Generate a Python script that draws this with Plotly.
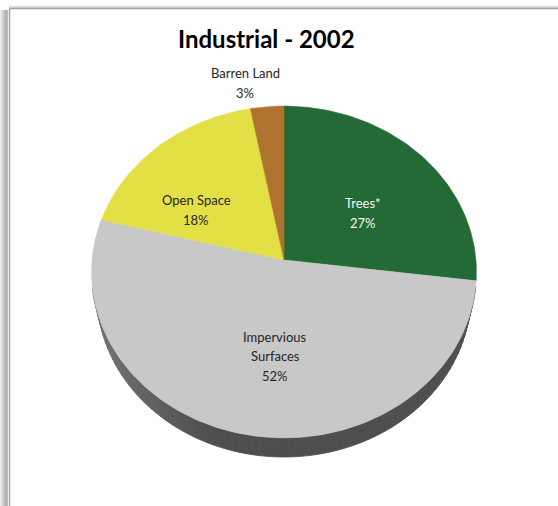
import numpy as np
import plotly.graph_objects as go

# ---- data -------------------------------------------------------------
categories = ["Trees*", "Impervious Surfaces", "Open Space", "Barren Land"]
label_lines = [["Trees*"], ["Impervious", "Surfaces"], ["Open Space"], ["Barren Land"]]
shares = [27, 52, 18, 3]

# ---- style ------------------------------------------------------------
face_colors = ["#236a36", "#c8c8c8", "#e3e046", "#b0732f"]
wall_colors = ["#143f20", "#4e4e4e", "#8a8729", "#6a451c"]
text_colors = ["#f4f8f4", "#262626", "#262626", "#262626"]
label_centers = [(363, 213), (275, 356), (196, 210), (245, 83)]
LINE_GAP = 19.5
FONT = "Lato, 'Open Sans', sans-serif"

W, H = 558, 506

# ---- perspective camera for a tilted disc -------------------------------
FOCAL = 1355.0
DIST = 7.06
TILT = np.radians(59.3)
ORIGIN = (284.0, 260.0)
THICK = 0.24


def project(u, v, h=0.0):
    """Disc point (u right, v toward viewer, h down) -> pixel coordinates."""
    y = -h
    up = y * np.cos(TILT) - v * np.sin(TILT)
    depth = DIST - y * np.sin(TILT) - v * np.cos(TILT)
    return ORIGIN[0] + FOCAL * u / depth, ORIGIN[1] - FOCAL * up / depth


def rim(a0, a1, n, h=0.0):
    a = np.linspace(a0, a1, n)
    return project(np.sin(a), -np.cos(a), h)


def mix(hex_color, target, t):
    c = np.array([int(hex_color[i:i + 2], 16) for i in (1, 3, 5)], float)
    c = c + (target - c) * t
    return "rgb(%d,%d,%d)" % tuple(np.clip(c, 0, 255).round())


total = float(sum(shares))
bounds = np.concatenate([[0], np.cumsum(shares)]) / total * 2 * np.pi

fig = go.Figure()

# side wall, built from small quads so it can be shaded along the rim
quads = []
step = np.radians(2.0)
for i in range(len(shares)):
    a0, a1 = bounds[i], bounds[i + 1]
    n = max(2, int(np.ceil((a1 - a0) / step)) + 1)
    edges = np.linspace(a0, a1, n)
    for s0, s1 in zip(edges[:-1], edges[1:]):
        mid = 0.5 * (s0 + s1)
        v_mid = -np.cos(mid)
        if v_mid < 0.15:
            continue
        tx, ty = rim(s0, s1, 4)
        bx, by = rim(s1, s0, 4, THICK)
        u_mid = np.sin(mid)
        light = np.clip((-u_mid - 0.35) / 0.55, 0, 1) * 0.18
        color = mix(wall_colors[i], 255, light)
        quads.append((v_mid, np.concatenate([tx, bx, tx[:1]]),
                      np.concatenate([ty, by, ty[:1]]), color))

for _, qx, qy, color in sorted(quads, key=lambda q: q[0]):
    fig.add_trace(go.Scatter(x=qx, y=qy, mode="lines", fill="toself",
                             fillcolor=color, line=dict(color=color, width=0.8),
                             hoverinfo="skip", showlegend=False))

# top faces of the slices
cx, cy = project(0.0, 0.0)
for i, name in enumerate(categories):
    a0, a1 = bounds[i], bounds[i + 1]
    n = max(3, int((a1 - a0) / np.radians(1.0)) + 2)
    ax_, ay_ = rim(a0, a1, n)
    xs = np.concatenate([[cx], ax_, [cx]])
    ys = np.concatenate([[cy], ay_, [cy]])
    fig.add_trace(go.Scatter(x=xs, y=ys, mode="lines", fill="toself",
                             fillcolor=face_colors[i],
                             line=dict(color=face_colors[i], width=0.6),
                             name=name, hoverinfo="name", showlegend=False))

# slice labels: name line(s) followed by the share
annotations = []
for i in range(len(shares)):
    lines = label_lines[i] + ["%d%%" % round(shares[i] / total * 100)]
    x0, y0 = label_centers[i]
    top = y0 - LINE_GAP * (len(lines) - 1) / 2
    for k, line in enumerate(lines):
        annotations.append(dict(x=x0, y=top + k * LINE_GAP, xref="x", yref="y",
                                text=line, showarrow=False,
                                font=dict(family=FONT, size=13, color=text_colors[i]),
                                xanchor="center", yanchor="middle"))

annotations.append(dict(x=266, y=38, xref="x", yref="y", text="<b>Industrial - 2002</b>",
                        showarrow=False, xanchor="center", yanchor="middle",
                        font=dict(family=FONT, size=24, color="#000000")))

# chart-area frame with a soft drop shadow on the left and top
shapes = []
shadow = ["#ececec", "#e2e2e2", "#d6d6d6", "#cacaca", "#bfbfbf", "#b6b6b6", "#b0b0b0", "#bcbcbc"]
for k, c in enumerate(shadow):
    shapes.append(dict(type="rect", xref="x", yref="y", x0=k, x1=k + 1, y0=10, y1=H,
                       line=dict(width=0), fillcolor=c, layer="below"))
for k, c in enumerate(["#f2f2f2", "#e4e4e4", "#d4d4d4"]):
    shapes.append(dict(type="rect", xref="x", yref="y", x0=9, x1=W, y0=5 + k, y1=6 + k,
                       line=dict(width=0), fillcolor=c, layer="below"))
shapes.append(dict(type="line", xref="x", yref="y", x0=9.5, x1=W, y0=8.5, y1=8.5,
                   line=dict(color="#a4a4a4", width=1.5)))
shapes.append(dict(type="line", xref="x", yref="y", x0=9.5, x1=9.5, y0=8.5, y1=H,
                   line=dict(color="#a4a4a4", width=1.5)))

fig.update_layout(
    width=W, height=H, autosize=False,
    margin=dict(l=0, r=0, t=0, b=0),
    paper_bgcolor="#ffffff", plot_bgcolor="#ffffff",
    xaxis=dict(range=[0, W], visible=False, fixedrange=True),
    yaxis=dict(range=[H, 0], visible=False, fixedrange=True),
    annotations=annotations, shapes=shapes, showlegend=False,
)

fig.write_html("out.html")
